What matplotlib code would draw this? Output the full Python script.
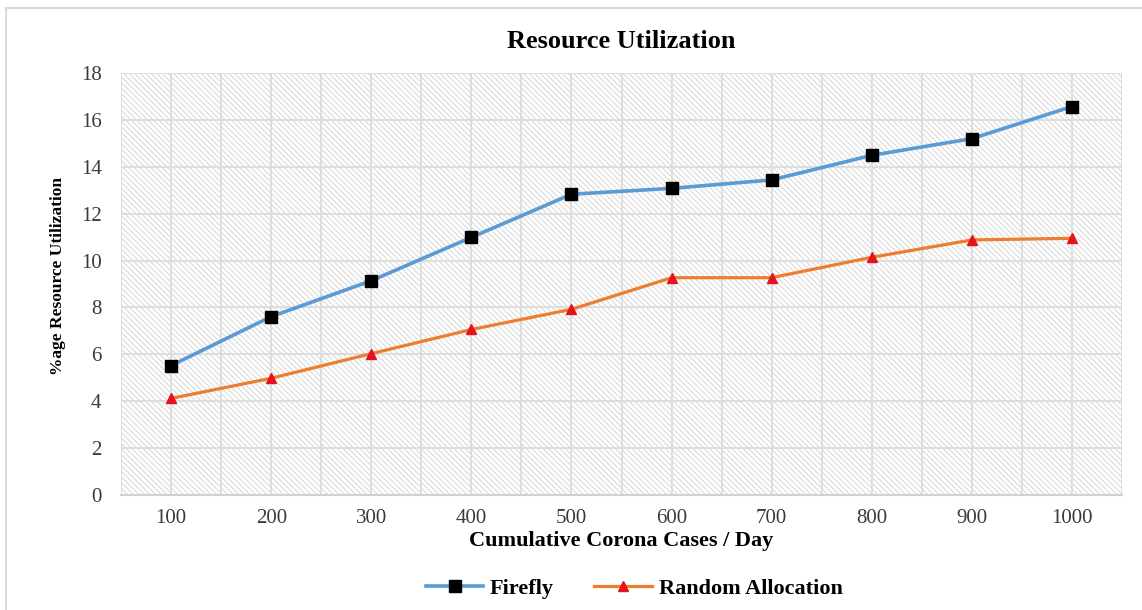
import matplotlib.pyplot as plt
from matplotlib.patches import Rectangle
from matplotlib.lines import Line2D
import numpy as np

cases = ["100", "200", "300", "400", "500", "600", "700", "800", "900", "1000"]
firefly = [5.52, 7.61, 9.14, 10.99, 12.83, 13.08, 13.44, 14.49, 15.20, 16.57]
random_alloc = [4.12, 4.98, 6.03, 7.06, 7.92, 9.27, 9.27, 10.14, 10.88, 10.95]
y_ticks = [0, 2, 4, 6, 8, 10, 12, 14, 16, 18]

plt.rcParams['font.family'] = ['Liberation Serif', 'DejaVu Serif']
plt.rcParams['hatch.linewidth'] = 0.8

fig = plt.figure(figsize=(11.42, 6.10), dpi=100)
ax = fig.add_axes([0.106, 0.1885, 0.8765, 0.6918])

# hatched plot area background
bg = Rectangle((0, 0), 1, 1, transform=ax.transAxes, facecolor='white',
               edgecolor='#dadada', linewidth=0, hatch='\\' * 6, zorder=0)
ax.add_patch(bg)

x = np.arange(len(cases))
ax.plot(x, firefly, color='#5B9BD5', linewidth=2.6, marker='s', markersize=9,
        markerfacecolor='black', markeredgecolor='black', label='Firefly', zorder=3)
ax.plot(x, random_alloc, color='#ED7D31', linewidth=2.3, marker='^', markersize=7,
        markerfacecolor='#E3141B', markeredgecolor='#E3141B', label='Random Allocation', zorder=3)

ax.set_xlim(-0.5, len(cases) - 0.5)
ax.set_ylim(0, 18)
ax.set_xticks(x)
ax.set_xticklabels(cases)
ax.set_xticks(np.arange(-0.5, len(cases), 1.0), minor=True)
ax.set_yticks(y_ticks)
ax.grid(True, which='both', color='#dcdcdc', linewidth=1.3, zorder=1)
ax.set_axisbelow(True)
ax.tick_params(axis='both', which='both', length=0, labelsize=15, colors='#3a3a3a')
ax.tick_params(axis='x', pad=10)
ax.tick_params(axis='y', pad=14)
for s in ['top', 'right', 'left']:
    ax.spines[s].set_visible(False)
ax.spines['bottom'].set_color('#d0d0d0')
ax.spines['bottom'].set_linewidth(1.5)

ax.set_title('Resource Utilization', fontsize=19, fontweight='bold', pad=18)
ax.set_xlabel('Cumulative Corona Cases / Day', fontsize=16, fontweight='bold', labelpad=2)
ax.set_ylabel('%age Resource Utilization', fontsize=12.5, fontweight='bold')
ax.yaxis.set_label_coords(-0.055, 0.52)

fig.legend(loc='center', bbox_to_anchor=(634 / 1142, 1 - 589 / 610), ncol=2,
           frameon=False, prop={'size': 16, 'weight': 'bold'},
           handlelength=2.6, columnspacing=1.8, handletextpad=0.3)

# outer chart frame
fig.add_artist(Line2D([6 / 1142, 6 / 1142], [0, 1 - 8 / 610], transform=fig.transFigure,
                      color='#d9d9d9', linewidth=1.5))
fig.add_artist(Line2D([6 / 1142, 1], [1 - 8 / 610, 1 - 8 / 610], transform=fig.transFigure,
                      color='#d9d9d9', linewidth=1.5))

fig.savefig('out.png', dpi=100)
